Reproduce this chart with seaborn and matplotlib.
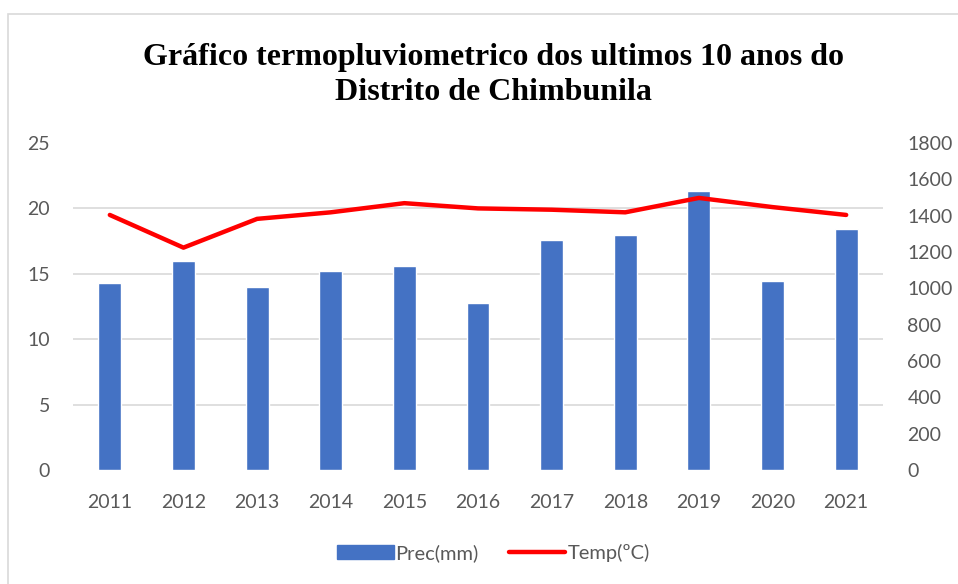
import matplotlib
matplotlib.use('Agg')
import matplotlib.pyplot as plt
import matplotlib.patches as mpatches
import seaborn as sns
import numpy as np
import pandas as pd

# dados
anos = ['2011', '2012', '2013', '2014', '2015', '2016', '2017', '2018', '2019', '2020', '2021']
prec_mm = [1028, 1153, 1008, 1097, 1122, 920, 1265, 1296, 1535, 1041, 1326]
temp_c = [19.5, 17.0, 19.2, 19.7, 20.4, 20.0, 19.9, 19.7, 20.8, 20.1, 19.5]

AZUL = '#4472C4'
VERMELHO = '#FF0000'
CINZA_TXT = '#595959'
CINZA_GRADE = '#D9D9D9'

sns.set_theme(style='white')
plt.rcParams['font.family'] = ['Lato', 'DejaVu Sans']

df = pd.DataFrame({'ano': anos, 'prec': prec_mm, 'temp': temp_c})

fig = plt.figure(figsize=(9.58, 5.84), dpi=100)
# moldura cinza do gráfico
fig.patches.append(mpatches.Rectangle((8 / 958, -0.1), 1.2, 1 - 14 / 584 + 0.1,
                                      transform=fig.transFigure, fill=False,
                                      edgecolor=CINZA_GRADE, linewidth=1.2))

ax = fig.add_axes([73 / 958, 1 - 470 / 584, 810 / 958, 327 / 584])
ax2 = ax.twinx()

# barras de precipitação (eixo direito)
sns.barplot(data=df, x='ano', y='prec', color=AZUL, width=0.31, saturation=1,
            ax=ax2, zorder=2)
ax2.set_ylim(0, 1800)
ax2.set_yticks(np.arange(0, 1801, 200))
ax2.set_yticks(np.linspace(0, 1800, 6), minor=True)
ax2.grid(True, which='minor', axis='y', color=CINZA_GRADE, linewidth=1.2)
ax2.grid(False, which='major')
ax2.set_axisbelow(True)

# linha de temperatura (eixo esquerdo), desenhada por cima
sns.lineplot(data=df, x='ano', y='temp', color=VERMELHO, linewidth=3.2,
             sort=False, ax=ax)
ax.set_ylim(0, 25)
ax.set_yticks(np.arange(0, 26, 5))
ax.set_zorder(ax2.get_zorder() + 1)
ax.patch.set_visible(False)
ax.grid(False)
ax.set_xlim(-0.5, len(anos) - 0.5)

for a in (ax, ax2):
    for s in a.spines.values():
        s.set_visible(False)
    a.set_xlabel('')
    a.set_ylabel('')
    a.tick_params(axis='both', which='both', length=0, labelsize=14,
                  labelcolor=CINZA_TXT)
ax.tick_params(axis='y', pad=16.5)
ax.tick_params(axis='x', pad=17)
ax2.tick_params(axis='y', pad=17.5)

fig.text(0.515, 1 - 75 / 584, 'Gráfico termopluviometrico dos ultimos 10 anos do\nDistrito de Chimbunila',
         ha='center', va='center', fontsize=23, fontweight='bold',
         family='Liberation Serif', linespacing=1.25, color='black')

handles = [mpatches.Patch(color=AZUL, label='Prec(mm)'),
           plt.Line2D([], [], color=VERMELHO, linewidth=3.2, label='Temp(ºC)')]
fig.legend(handles=handles, loc='center', bbox_to_anchor=(0.515, 1 - 553 / 584),
           ncol=2, frameon=False, fontsize=14.5, handlelength=2.8,
           handletextpad=0.1, columnspacing=1.5, labelcolor=CINZA_TXT)

fig.savefig('out.png', dpi=100)
